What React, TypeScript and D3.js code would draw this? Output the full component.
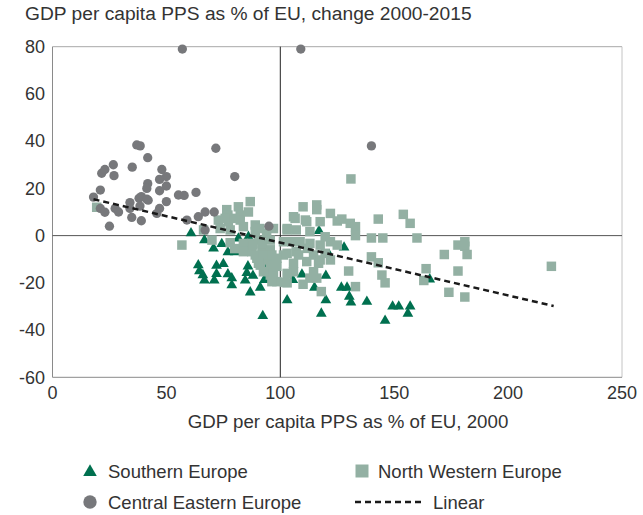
import React from 'react';
import * as d3 from 'd3';

// GDP per capita PPS as % of EU: level in 2000 (x) vs change 2000-2015 (y)
const southernX = [60.8, 66.7, 70.7, 74.3, 77, 80.2, 81.6, 86, 64, 64.5, 66, 66.7, 71, 72, 72, 75, 77, 78.7, 78.7, 85.8, 85.3, 84.6, 88, 86.8, 91.2, 93, 92.3, 103, 94, 117, 128, 121.5, 109.5, 105.5, 120, 115, 126.8, 129.3, 130.3, 131, 120, 118, 138, 146, 149.3, 152, 157, 156, 165.6];
const southernY = [1, -1.9, -5.4, -3.5, -7, -7, -1.2, -0.5, -12.5, -15, -16.7, -19, -19, -12.7, -16.2, -12, -16.3, -18, -21, -13, -15.8, -19, -17, -24, -22, -18.8, -34, -27.3, -12.5, 2, -5, -8.2, -16.4, -18.8, -17, -22, -22, -22, -25.8, -28.3, -27.3, -33, -28, -36, -30, -30, -30, -33, -18.5];

const northWestX = [19.4, 56.8, 66.3, 70, 72.8, 76.5, 77, 77.2, 81.6, 82.4, 82.4, 86.8, 80, 83.8, 89, 89, 83.8, 87.5, 90.4, 94, 95.6, 83.8, 87.5, 92, 95.6, 89.7, 93.4, 97, 91.2, 95.6, 95.6, 98.5, 96.3, 88, 92, 89, 92.6, 96.3, 90.4, 96.3, 92.6, 97, 96.3, 78, 80, 73.6, 75.8, 78, 86, 91, 97,
  110, 116, 116, 105.8, 122, 117.5, 111.6, 103, 107, 113, 119.7, 122, 125, 101.4, 105, 108.7, 113, 117.5, 103, 107, 114.6, 119.7, 122, 116.8, 111.6, 105.8, 105.8, 114.6, 101.4, 103, 103, 113, 108, 112, 106.5, 111, 103, 117.5, 98.5, 98.5, 102, 110,
  131, 125, 127, 130.7, 133, 133, 143, 140, 145, 154, 157, 160, 140, 143, 144.6, 146, 130, 133, 164, 163, 172, 178, 181, 181, 182, 178, 174, 181, 219, 116, 118];
const northWestY = [12, -4, 2.4, -1.9, 6.6, 11, 8.7, 5.9, 12.2, 8.7, 6.6, 14.4, 7.3, 3.8, 4.5, 1.7, -3.3, -3.3, -1.9, 1, -1.9, -6.8, -6.8, -6, -6, -9.6, -10.3, -10.3, -12.5, -13.8, -16.7, -19.5, -16, -4, -3.3, -8.2, -8.2, -8.2, -11.7, -12.5, -15.3, -16, -19.5, -3, -5.5, 3, 7.3, 2.4, 10, 3, 3,
  12.2, 13, 11, 8, 9.4, 5.9, 5.9, 2.4, 2.4, 1.7, -0.5, -2.6, -4, -2.6, -2.6, -2.6, -3.3, -4, -7.5, -6.8, -8.2, -7.5, -10.3, -11.7, -11, -11.7, -15.3, -15.3, -8.2, -16, -20, -18, -8.2, -5.4, 7.3, 6.6, 3, -10.3, -9.6, -13, -19.8, -20.6,
  24, 6.2, 7, 5.2, 3.8, 0, 7, -1, -1, 9, 5.2, -1, -9, -11.5, -16.7, -20, -15, -21.6, -14, -19, -8, -4, -2.6, -4.5, -8, -15, -24, -26, -13, -18, -23.7];

const centralEastX = [57, 109, 18, 21, 21.6, 23, 26.7, 27, 35, 37, 38.5, 41.8, 48, 50, 47, 41.8, 41.4, 50, 47, 55.3, 57.8, 63, 38, 34, 42, 50, 21, 27.5, 34, 38.4, 47, 23, 29, 34.8, 39, 45.8, 25, 59, 64, 67, 71, 67, 71.7, 80, 95, 140, 39, 41.4];
const centralEastY = [79, 79, 16.3, 19.3, 26.4, 28, 30, 25.4, 29, 38.4, 38, 33, 28, 25, 23.8, 22, 20, 21, 19, 17.2, 17, 18.3, 15.8, 14, 15, 14.4, 11.5, 11.5, 11.5, 12.5, 11.5, 9.9, 10, 7.7, 6.3, 9.4, 4, 6.6, 8, 10, 10, 2.4, 37, 25, 4, 38, 16.5, 15.4];

const linearX = [18, 220];
const linearY = [15.4, -29.8];

const xTicks = [0, 50, 100, 150, 200, 250];
const yTicks = [80, 60, 40, 20, 0, -20, -40, -60];

const W = 643;
const H = 515;
const FONT = '"Liberation Sans", Arial, sans-serif';
const TEXT = '#333333';
const GREEN = '#00704f';
const SAGE = '#93b0a3';
const GREY = '#77787b';

const x = d3.scaleLinear().domain([0, 250]).range([52.5, 622]);
const y = d3.scaleLinear().domain([-60, 80]).range([377.3, 46.7]);

const tri = d3.symbol().type(d3.symbolTriangle).size(50)();
const sq = d3.symbol().type(d3.symbolSquare).size(90)();
const circ = d3.symbol().type(d3.symbolCircle).size(68)();
const triL = d3.symbol().type(d3.symbolTriangle).size(80)();
const sqL = d3.symbol().type(d3.symbolSquare).size(169)();
const circL = d3.symbol().type(d3.symbolCircle).size(140)();

const trendLine = d3.line<number>().x((d) => x(d)).y((d, i) => y(linearY[i]));

export default function App() {
  return (
    <svg width={W} height={H} style={{ position: 'absolute', left: 0, top: 0, background: '#fff' }} fontFamily={FONT}>
      <text x={25} y={20} fontSize={19.2} fill={TEXT}>GDP per capita PPS as % of EU, change 2000-2015</text>

      {/* frame */}
      <line x1={x(0)} x2={x(250)} y1={y(80)} y2={y(80)} stroke="#a8a8a8" />
      <line x1={x(250)} x2={x(250)} y1={y(80)} y2={y(-60)} stroke="#c4c4c4" />
      <line x1={x(0)} x2={x(0)} y1={y(80)} y2={y(-60)} stroke="#8a8a8a" />
      <line x1={x(0)} x2={x(250)} y1={y(-60)} y2={y(-60)} stroke="#8a8a8a" />
      <line x1={x(0)} x2={x(250)} y1={y(0)} y2={y(0)} stroke="#555" />
      <line x1={x(100)} x2={x(100)} y1={y(80)} y2={y(-60)} stroke="#222" />

      {yTicks.map((t) => (
        <text key={t} x={45} y={y(t)} dy="0.35em" textAnchor="end" fontSize={18} fill={TEXT}>{t}</text>
      ))}
      {xTicks.map((t) => (
        <text key={t} x={x(t)} y={399} textAnchor="middle" fontSize={18} fill={TEXT}>{t}</text>
      ))}
      <text x={348} y={428} textAnchor="middle" fontSize={18.7} fill={TEXT}>GDP per capita PPS as % of EU, 2000</text>

      {southernX.map((v, i) => (
        <path key={'s' + i} d={tri} transform={`translate(${x(v)},${y(southernY[i])})`} fill={GREEN} />
      ))}
      {northWestX.map((v, i) => (
        <path key={'n' + i} d={sq} transform={`translate(${x(v)},${y(northWestY[i])})`} fill={SAGE} />
      ))}
      {centralEastX.map((v, i) => (
        <path key={'c' + i} d={circ} transform={`translate(${x(v)},${y(centralEastY[i])})`} fill={GREY} />
      ))}
      <path d={trendLine(linearX) || ''} fill="none" stroke="#1a1a1a" strokeWidth={2.5} strokeDasharray="6,4" />

      {/* legend */}
      <g fontSize={18.5} fill={TEXT}>
        <path d={triL} transform="translate(90,472)" fill={GREEN} />
        <text x={108} y={478}>Southern Europe</text>
        <path d={sqL} transform="translate(362,471)" fill={SAGE} />
        <text x={378} y={478}>North Western Europe</text>
        <path d={circL} transform="translate(90,502)" fill={GREY} />
        <text x={108} y={509}>Central Eastern Europe</text>
        <line x1={355} x2={422} y1={502} y2={502} stroke="#1a1a1a" strokeWidth={2.5} strokeDasharray="6,4" />
        <text x={433} y={509}>Linear</text>
      </g>
    </svg>
  );
}
